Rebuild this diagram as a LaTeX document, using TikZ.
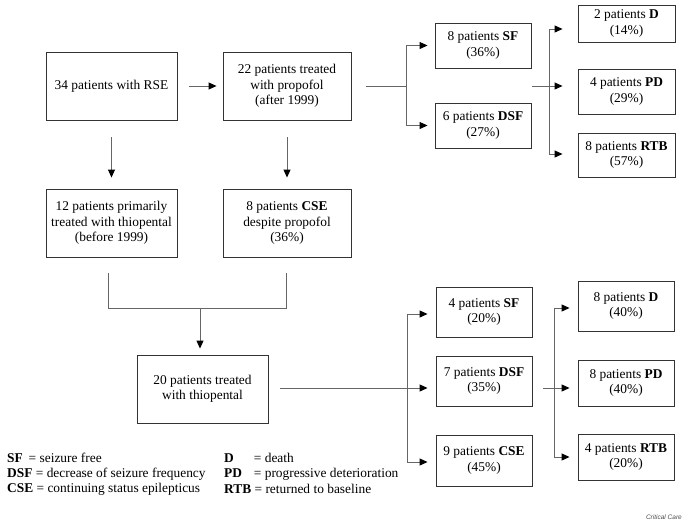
\documentclass[tikz,border=0pt]{standalone}
\usepackage{fontspec}
\setmainfont{Liberation Serif}
\newfontfamily\capfont{Liberation Sans}
\usetikzlibrary{arrows.meta}
\begin{document}
\begin{tikzpicture}[x=1pt,y=-1pt,
  font=\fontsize{13.4}{15.5}\selectfont,
  box/.style={draw=black!80,line width=0.9pt,align=center,inner sep=0pt,fill=white},
  bigbox/.style={box,minimum width=131pt,minimum height=68pt},
  smallbox/.style={box,minimum width=96pt,minimum height=#1},
  conn/.style={draw=black!60,line width=1pt},
  arr/.style={conn,-{Triangle[length=8pt,width=7pt,color=black]}},
  legend/.style={anchor=west,inner sep=0pt}]
\useasboundingbox (0,0) rectangle (685,522);

% top part
\node[bigbox] (b1) at (111.5,86) {34 patients with RSE};
\node[bigbox,minimum width=128pt] (b2) at (287,86) {22 patients treated\\with propofol\\(after 1999)};
\node[bigbox] (b3) at (111.5,223) {12 patients primarily\\treated with thiopental\\(before 1999)};
\node[bigbox,minimum width=128pt] (b4) at (287,223) {8 patients \textbf{CSE}\\despite propofol\\(36\%)};

\node[smallbox=45pt] (sf1) at (483,45.5) {8 patients \textbf{SF}\\(36\%)};
\node[smallbox=45pt] (dsf1) at (483,125.5) {6 patients \textbf{DSF}\\(27\%)};

\node[smallbox=37pt,minimum width=97pt] (d1) at (626.5,23.5) {2 patients \textbf{D}\\(14\%)};
\node[smallbox=45pt,minimum width=97pt] (pd1) at (626.5,91.5) {4 patients \textbf{PD}\\(29\%)};
\node[smallbox=44pt,minimum width=97pt] (rtb1) at (626.5,155) {8 patients \textbf{RTB}\\(57\%)};

% bottom part
\node[bigbox] (b5) at (202.5,389) {20 patients treated\\with thiopental};

\node[smallbox=50pt] (sf2) at (484,312) {4 patients \textbf{SF}\\(20\%)};
\node[smallbox=50pt] (dsf2) at (484,381) {7 patients \textbf{DSF}\\(35\%)};
\node[smallbox=51pt] (cse2) at (484,460.5) {9 patients \textbf{CSE}\\(45\%)};

\node[smallbox=50pt] (d2) at (626,306) {8 patients \textbf{D}\\(40\%)};
\node[smallbox=46pt] (pd2) at (626,383) {8 patients \textbf{PD}\\(40\%)};
\node[smallbox=46pt] (rtb2) at (626,457) {4 patients \textbf{RTB}\\(20\%)};

% connectors top
\draw[arr,shorten <=12pt,shorten >=6pt] (b1) -- (b2);
\draw[arr,shorten <=17pt,shorten >=11pt] (b1) -- (b3);
\draw[arr,shorten <=17pt,shorten >=11pt] (b2) -- (b4);

\coordinate (j1) at (406,86);
\draw[conn,shorten <=15pt] (b2.east) -- (j1);
\draw[arr,shorten >=7pt] (j1) |- (sf1.west);
\draw[arr,shorten >=7pt] (j1) |- (dsf1.west);

\coordinate (j2) at (549,86);
\coordinate (s2) at (532,86);
\draw[conn] (s2) -- (j2);
\draw[arr,shorten >=15pt] (j2) |- (d1.west |- 0,29);
\draw[arr,shorten >=15pt] (j2) -- (pd1.west |- j2);
\draw[arr,shorten >=15pt] (j2) |- (rtb1.west |- 0,154);

% merge
\coordinate (m1) at (108,308);
\coordinate (m2) at (286,308);
\coordinate (m0) at (200,308);
\draw[conn,shorten <=16pt,shorten >=16pt] (b3.south -| m1) -- (m1) -- (m2) -- (b4.south -| m2);
\draw[arr,shorten >=6pt] (m0) -- (b5.north -| m0);

% connectors bottom
\coordinate (j3) at (407,388);
\draw[conn,shorten <=12pt] (b5.east |- j3) -- (j3);
\draw[arr,shorten >=8pt] (j3) |- (sf2.west |- 0,314);
\draw[arr,shorten >=8pt] (j3) -- (dsf2.west |- j3);
\draw[arr,shorten >=8pt] (j3) |- (cse2.west |- 0,462);

\coordinate (j4) at (554,388);
\draw[conn,shorten <=11pt] (dsf2.east |- j4) -- (j4);
\draw[arr,shorten >=8pt] (j4) |- (d2.west |- 0,308);
\draw[arr,shorten >=8pt] (j4) -- (pd2.west |- j4);
\draw[arr,shorten >=8pt] (j4) |- (rtb2.west |- 0,457);

% legend
\node[legend] (l1) at (7,458) {\textbf{SF}\hspace{5.9pt}= seizure free};
\node[legend] (l2) at (7,474) {\textbf{DSF} = decrease of seizure frequency};
\node[legend] (l3) at (7,489) {\textbf{CSE} = continuing status epilepticus};
\node[legend] (l4) at (224,458) {\makebox[29.7pt][l]{\textbf{D}}= death};
\node[legend] (l5) at (224,474) {\makebox[29.7pt][l]{\textbf{PD}}= progressive deterioration};
\node[legend] (l6) at (224,489) {\textbf{RTB} = returned to baseline};

\node[anchor=east,inner sep=0pt,font=\capfont\itshape\fontsize{6.5}{7}\selectfont,text=black!70] (cc) at (682,517) {Critical Care};
\end{tikzpicture}
\end{document}
